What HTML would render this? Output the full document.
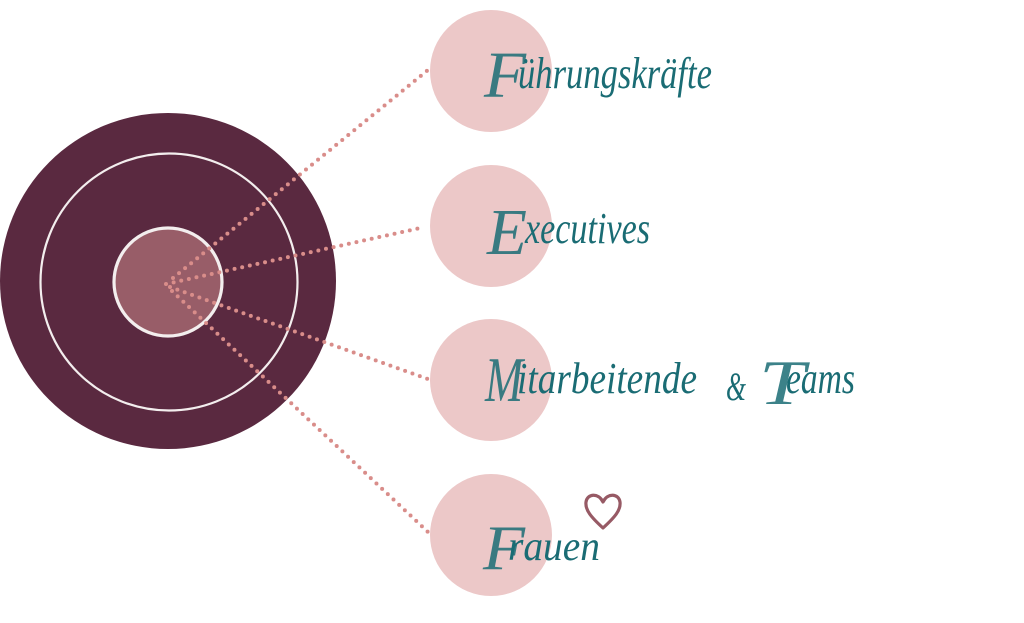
<!DOCTYPE html>
<html>
<head>
<meta charset="utf-8">
<style>
  html,body{margin:0;padding:0;background:#ffffff;}
  svg{display:block;}
  .t{font-family:"Liberation Serif","DejaVu Serif",serif;font-style:italic;fill:#1a6c74;}
  .c{fill-opacity:0.85;}
</style>
</head>
<body>
<svg width="1024" height="623" viewBox="0 0 1024 623" xmlns="http://www.w3.org/2000/svg">
  <rect width="1024" height="623" fill="#ffffff"/>
  <!-- big target -->
  <circle cx="168" cy="281" r="168" fill="#5a2940"/>
  <circle cx="169" cy="282" r="128.5" fill="none" stroke="#f3eeee" stroke-width="2.2"/>
  <circle cx="168" cy="282" r="54" fill="#985d68" stroke="#f3eeee" stroke-width="3.2"/>

  <!-- dotted connectors -->
  <g stroke="#d98d8a" stroke-width="4" stroke-linecap="round" stroke-dasharray="0 7.8" fill="none">
    <line x1="173" y1="278" x2="428" y2="70"/>
    <line x1="166" y1="284" x2="425" y2="227"/>
    <line x1="170" y1="287" x2="428" y2="379"/>
    <line x1="172" y1="291" x2="428" y2="532"/>
  </g>

  <!-- pink circles -->
  <g fill="#ecc8c8">
    <circle cx="491" cy="71" r="61"/>
    <circle cx="491" cy="226" r="61"/>
    <circle cx="491" cy="380" r="61"/>
    <circle cx="491" cy="535" r="61"/>
  </g>

  <!-- labels -->
  <text class="t c" x="484" y="97" font-size="66" textLength="42" lengthAdjust="spacingAndGlyphs">F</text>
  <text class="t" x="518" y="88" font-size="44" textLength="194" lengthAdjust="spacingAndGlyphs">ührungskräfte</text>

  <text class="t c" x="487" y="254" font-size="66" textLength="40" lengthAdjust="spacingAndGlyphs">E</text>
  <text class="t" x="525" y="243" font-size="44" textLength="125" lengthAdjust="spacingAndGlyphs">xecutives</text>

  <text class="t c" x="485" y="401" font-size="64" textLength="38" lengthAdjust="spacingAndGlyphs">M</text>
  <text class="t" x="517" y="393" font-size="44" textLength="180" lengthAdjust="spacingAndGlyphs">itarbeitende</text>
  <text class="t" x="726" y="400" font-size="40" textLength="20" lengthAdjust="spacingAndGlyphs">&amp;</text>
  <text class="t c" x="759" y="404" font-size="64" textLength="46" lengthAdjust="spacingAndGlyphs">T</text>
  <text class="t" x="786" y="393" font-size="44" textLength="69" lengthAdjust="spacingAndGlyphs">eams</text>

  <text class="t c" x="483" y="569" font-size="64" textLength="42" lengthAdjust="spacingAndGlyphs">F</text>
  <text class="t" x="508" y="560" font-size="42" textLength="92" lengthAdjust="spacingAndGlyphs">rauen</text>

  <!-- heart -->
  <path d="M603,528 C591,517 585,510 586,502 C587,494 598,492 603,502 C608,492 619,494 620,502 C621,510 615,517 603,528 Z"
        fill="none" stroke="#975a65" stroke-width="3.2" stroke-linejoin="round"/>
</svg>
</body>
</html>
